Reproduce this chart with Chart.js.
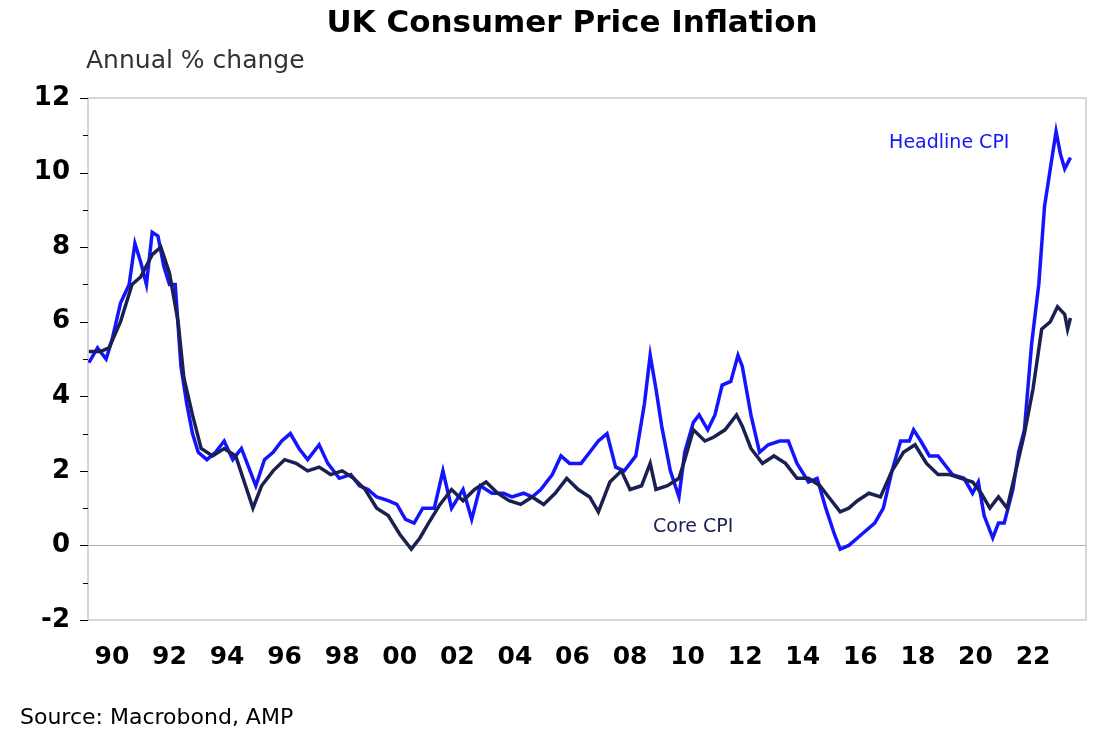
<!DOCTYPE html>
<html>
<head>
<script src="https://cdn.jsdelivr.net/npm/chart.js"></script>
<style>
  body { margin: 0; background: #fff; }
</style>
</head>
<body>
<canvas id="c" width="1116" height="752"></canvas>
<script>
// monthly-ish points (decimal years)
var headT = [1989.2,1989.5,1989.8,1990.0,1990.3,1990.6,1990.8,1991.0,1991.2,1991.4,1991.6,1991.8,1992.0,1992.2,1992.4,1992.6,1992.8,1993.0,1993.3,1993.6,1993.9,1994.2,1994.5,1994.8,1995.0,1995.3,1995.6,1995.9,1996.2,1996.5,1996.8,1997.2,1997.5,1997.9,1998.3,1998.6,1998.9,1999.2,1999.6,1999.9,2000.2,2000.5,2000.8,2001.2,2001.5,2001.8,2002.2,2002.5,2002.8,2003.2,2003.6,2003.9,2004.3,2004.6,2004.9,2005.3,2005.6,2005.9,2006.3,2006.6,2006.9,2007.2,2007.5,2007.8,2008.2,2008.5,2008.7,2008.9,2009.1,2009.4,2009.7,2009.9,2010.2,2010.4,2010.7,2010.95,2011.2,2011.5,2011.75,2011.9,2012.2,2012.5,2012.8,2013.2,2013.5,2013.8,2014.2,2014.5,2014.8,2015.1,2015.3,2015.6,2015.9,2016.2,2016.5,2016.8,2017.1,2017.4,2017.7,2017.85,2018.1,2018.4,2018.7,2018.9,2019.2,2019.6,2019.9,2020.1,2020.3,2020.6,2020.8,2021.0,2021.3,2021.5,2021.7,2021.95,2022.2,2022.4,2022.6,2022.8,2022.95,2023.1,2023.3];
var headV = [4.9,5.3,5.0,5.5,6.5,7.0,8.1,7.6,7.0,8.4,8.3,7.5,7.0,7.0,4.8,3.8,3.0,2.5,2.3,2.5,2.8,2.3,2.6,2.0,1.6,2.3,2.5,2.8,3.0,2.6,2.3,2.7,2.2,1.8,1.9,1.6,1.5,1.3,1.2,1.1,0.7,0.6,1.0,1.0,2.0,1.0,1.5,0.7,1.6,1.4,1.4,1.3,1.4,1.3,1.5,1.9,2.4,2.2,2.2,2.5,2.8,3.0,2.1,2.0,2.4,3.8,5.1,4.2,3.2,2.0,1.3,2.5,3.3,3.5,3.1,3.5,4.3,4.4,5.1,4.8,3.5,2.5,2.7,2.8,2.8,2.2,1.7,1.8,1.0,0.3,-0.1,0.0,0.2,0.4,0.6,1.0,2.0,2.8,2.8,3.1,2.8,2.4,2.4,2.2,1.9,1.8,1.4,1.7,0.8,0.2,0.6,0.6,1.5,2.5,3.1,5.4,7.0,9.1,10.1,11.1,10.5,10.1,10.4];
var coreT = [1989.2,1989.6,1989.9,1990.3,1990.7,1991.0,1991.4,1991.7,1992.0,1992.3,1992.5,1992.8,1993.1,1993.5,1993.9,1994.3,1994.6,1994.9,1995.2,1995.6,1996.0,1996.4,1996.8,1997.2,1997.6,1998.0,1998.4,1998.8,1999.2,1999.6,2000.0,2000.4,2000.7,2001.0,2001.4,2001.8,2002.2,2002.6,2003.0,2003.4,2003.8,2004.2,2004.6,2005.0,2005.4,2005.8,2006.2,2006.6,2006.9,2007.3,2007.7,2008.0,2008.4,2008.7,2008.9,2009.3,2009.7,2009.9,2010.2,2010.6,2010.9,2011.3,2011.7,2011.9,2012.2,2012.6,2013.0,2013.4,2013.8,2014.2,2014.6,2014.9,2015.3,2015.6,2015.9,2016.3,2016.7,2017.1,2017.5,2017.9,2018.3,2018.7,2019.1,2019.5,2019.9,2020.2,2020.5,2020.8,2021.1,2021.4,2021.7,2022.0,2022.3,2022.6,2022.85,2023.1,2023.2,2023.3];
var coreV = [5.2,5.2,5.3,6.0,7.0,7.2,7.8,8.0,7.3,6.0,4.5,3.5,2.6,2.4,2.6,2.4,1.7,1.0,1.6,2.0,2.3,2.2,2.0,2.1,1.9,2.0,1.8,1.5,1.0,0.8,0.3,-0.1,0.2,0.6,1.1,1.5,1.2,1.5,1.7,1.4,1.2,1.1,1.3,1.1,1.4,1.8,1.5,1.3,0.9,1.7,2.0,1.5,1.6,2.2,1.5,1.6,1.8,2.3,3.1,2.8,2.9,3.1,3.5,3.2,2.6,2.2,2.4,2.2,1.8,1.8,1.6,1.3,0.9,1.0,1.2,1.4,1.3,2.0,2.5,2.7,2.2,1.9,1.9,1.8,1.7,1.4,1.0,1.3,1.0,2.0,3.0,4.2,5.8,6.0,6.4,6.2,5.8,6.1];
var xTicks = [1990,1992,1994,1996,1998,2000,2002,2004,2006,2008,2010,2012,2014,2016,2018,2020,2022];
var yTicks = [-2,0,2,4,6,8,10,12];

function pts(t, v) { return t.map(function (x, i) { return { x: x, y: v[i] }; }); }

var FONT = '"DejaVu Sans", Arial';

var extras = {
  id: 'extras',
  beforeDatasetsDraw: function (chart) {
    var ctx = chart.ctx, a = chart.chartArea, y = chart.scales.y;
    ctx.save();
    ctx.strokeStyle = '#b0b0b0'; ctx.lineWidth = 1;
    ctx.strokeRect(a.left, a.top, a.right - a.left, a.bottom - a.top);
    var z = Math.round(y.getPixelForValue(0)) + 0.5;
    ctx.beginPath(); ctx.moveTo(a.left, z); ctx.lineTo(a.right, z); ctx.stroke();
    // minor ticks on y axis
    ctx.strokeStyle = '#000';
    for (var v = -2; v <= 12; v++) {
      var p = Math.round(y.getPixelForValue(v)) + 0.5;
      ctx.beginPath(); ctx.moveTo(a.left - (v % 2 ? 5 : 8), p); ctx.lineTo(a.left, p); ctx.stroke();
    }
    ctx.restore();
  },
  afterDraw: function (chart) {
    var ctx = chart.ctx, x = chart.scales.x, y = chart.scales.y;
    ctx.save();
    ctx.fillStyle = '#000';
    ctx.font = 'bold 31px ' + FONT;
    ctx.textAlign = 'center'; ctx.textBaseline = 'middle';
    ctx.fillText('UK Consumer Price Inflation', 572, 24);
    ctx.textAlign = 'left';
    ctx.fillStyle = '#333';
    ctx.font = '25px ' + FONT;
    ctx.fillText('Annual % change', 86, 61);
    ctx.fillStyle = '#000';
    ctx.font = '22px ' + FONT;
    ctx.fillText('Source: Macrobond, AMP', 20, 718);
    ctx.font = '19px ' + FONT;
    ctx.fillStyle = '#1414ff';
    ctx.fillText('Headline CPI', x.getPixelForValue(2017.0), y.getPixelForValue(10.8));
    ctx.fillStyle = '#1a2150';
    ctx.fillText('Core CPI', x.getPixelForValue(2008.8), y.getPixelForValue(0.5));
    ctx.restore();
  }
};

new Chart(document.getElementById('c'), {
  type: 'line',
  data: {
    datasets: [
      { label: 'Core CPI', data: pts(coreT, coreV), borderColor: '#1a2150', borderWidth: 3.5, pointRadius: 0, tension: 0 },
      { label: 'Headline CPI', data: pts(headT, headV), borderColor: '#1414ff', borderWidth: 3.5, pointRadius: 0, tension: 0 }
    ]
  },
  options: {
    responsive: false,
    animation: false,
    layout: { padding: { top: 98, right: 30, left: 0, bottom: 0 } },
    plugins: { legend: { display: false }, tooltip: { enabled: false } },
    scales: {
      x: {
        type: 'linear', min: 1989.17, max: 2023.84,
        afterBuildTicks: function (s) { s.ticks = xTicks.map(function (v) { return { value: v }; }); },
        afterFit: function (s) { s.height = 132; },
        grid: { display: false, drawTicks: false },
        border: { display: false },
        ticks: {
          padding: 22, color: '#000', maxRotation: 0, autoSkip: false,
          font: { family: FONT, size: 25, weight: 'bold' },
          callback: function (v) { return String(v % 100).padStart(2, '0'); }
        }
      },
      y: {
        min: -2, max: 12,
        afterBuildTicks: function (s) { s.ticks = yTicks.map(function (v) { return { value: v }; }); },
        afterFit: function (s) { s.width = 88; },
        grid: { display: false, drawTicks: false },
        border: { display: false },
        ticks: {
          padding: 18, color: '#000',
          font: { family: FONT, size: 26, weight: 'bold' }
        }
      }
    }
  },
  plugins: [extras]
});
</script>
</body>
</html>
